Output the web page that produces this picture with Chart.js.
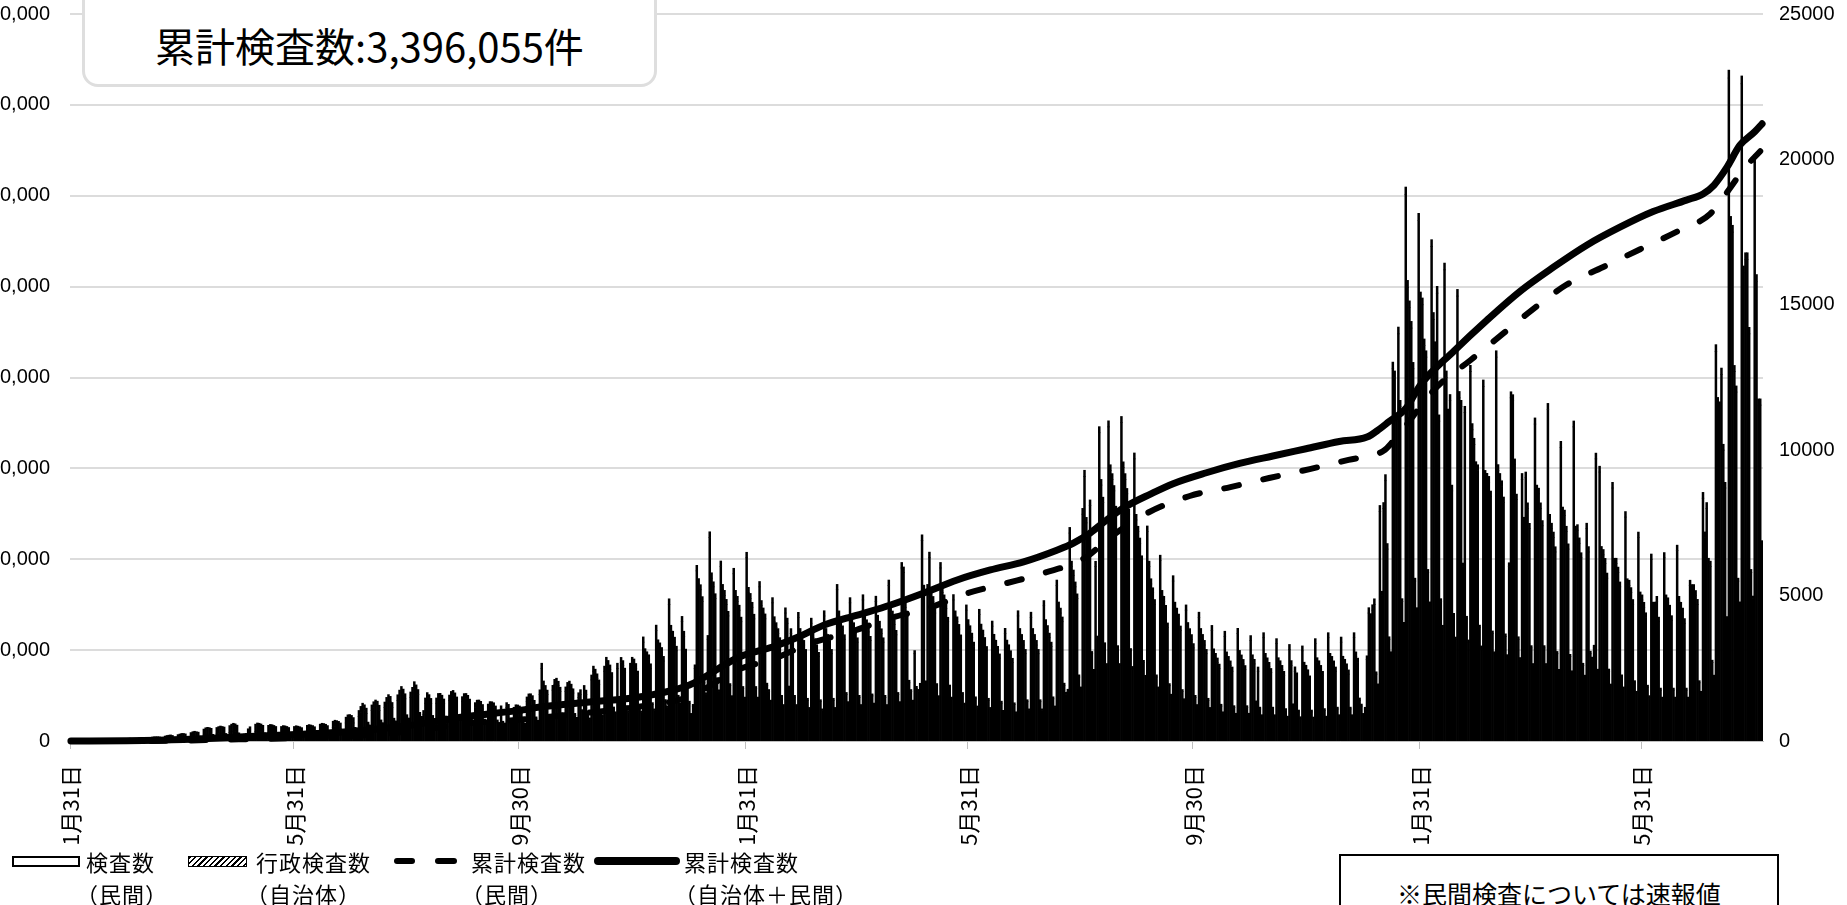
<!DOCTYPE html>
<html lang="ja">
<head>
<meta charset="utf-8">
<title>累計検査数</title>
<script src="https://cdn.jsdelivr.net/npm/chart.js@4.4.1/dist/chart.umd.min.js"></script>
<style>
  html, body { margin: 0; padding: 0; background: #fff; }
  body { width: 1847px; height: 905px; overflow: hidden; position: relative; font-family: "Noto Sans CJK JP", sans-serif; color: #000; }
  #wrap { position: absolute; left: -80px; top: 0; width: 1927px; height: 850px; }
  #total-box { position: absolute; left: 82px; top: -30px; width: 575px; height: 117px; box-sizing: border-box; border: 3px solid #dedede; border-radius: 16px; background: #fff; text-align: center; font-size: 40px; line-height: 48px; padding-top: 48px; }
  .sw { position: absolute; box-sizing: border-box; }
  .lt { position: absolute; font-size: 22px; line-height: 26px; letter-spacing: 1px; white-space: nowrap; }
  #note { position: absolute; left: 1339px; top: 854px; width: 440px; height: 90px; box-sizing: border-box; border: 2px solid #000; text-align: center; font-size: 25px; line-height: 30px; padding-top: 22px; }
</style>
</head>
<body>
<div id="wrap"><canvas id="chart" width="1927" height="850" style="width:1927px;height:850px"></canvas></div>
<div id="total-box">累計検査数:3,396,055件</div>

<div class="sw" style="left:12px;top:856px;width:68px;height:11px;border:2px solid #000;background:#fff"></div>
<div class="lt" style="left:86px;top:848px">検査数</div>
<div class="lt" style="left:76px;top:880px">（民間）</div>

<div class="sw" style="left:188px;top:856px;width:59px;height:11px;border:1px solid #000;background:repeating-linear-gradient(135deg,#000 0 1.5px,#fff 1.5px 4px)"></div>
<div class="lt" style="left:256px;top:848px">行政検査数</div>
<div class="lt" style="left:246px;top:880px">（自治体）</div>

<div class="sw" style="left:394px;top:858px;width:21px;height:6px;border-radius:3px;background:#000"></div>
<div class="sw" style="left:435px;top:858px;width:22px;height:6px;border-radius:3px;background:#000"></div>
<div class="lt" style="left:471px;top:848px">累計検査数</div>
<div class="lt" style="left:461px;top:880px">（民間）</div>

<div class="sw" style="left:594px;top:857px;width:86px;height:8px;border-radius:4px;background:#000"></div>
<div class="lt" style="left:684px;top:848px">累計検査数</div>
<div class="lt" style="left:674px;top:880px">（自治体＋民間）</div>

<div id="note">※民間検査については速報値</div>

<script>
// x axis: one category per day from 2020-01-31
const startDate = "2020-01-31";
const tickDates = ["2020-01-31", "2020-05-31", "2020-09-30", "2021-01-31", "2021-05-31", "2021-09-30", "2022-01-31", "2022-05-31"];
const tickLabels = ["1月31日", "5月31日", "9月30日", "1月31日", "5月31日", "9月30日", "1月31日", "5月31日"];

// daily tests, private labs (right axis); rows are weeks starting 2020-02-02
const minkanDaily = [
  0, 0,
  0, 0, 0, 0, 0, 0, 0,
  0, 0, 0, 0, 0, 0, 0,
  0, 0, 0, 0, 0, 0, 0,
  0, 0, 0, 0, 0, 0, 0,
  10, 15, 18, 20, 16, 5, 4,
  25, 30, 28, 32, 30, 10, 8,
  40, 45, 42, 50, 46, 15, 12,
  60, 70, 75, 80, 72, 25, 20,
  90, 100, 110, 115, 105, 35, 30,
  130, 150, 160, 150, 140, 80, 65,
  200, 230, 240, 235, 220, 120, 100,
  240, 260, 275, 265, 250, 140, 120,
  290, 320, 340, 330, 300, 160, 130,
  100, 110, 120, 220, 260, 150, 120,
  320, 350, 345, 330, 300, 170, 140,
  300, 320, 315, 300, 280, 160, 130,
  280, 300, 295, 285, 265, 150, 125,
  290, 310, 300, 290, 270, 170, 150,
  330, 350, 340, 330, 300, 190, 170,
  370, 390, 385, 370, 340, 210, 190,
  470, 500, 490, 470, 430, 270, 240,
  620, 690, 700, 680, 620, 380, 340,
  850, 980, 1100, 1050, 950, 560, 480,
  1050, 1150, 1210, 1180, 1050, 640, 560,
  1150, 1300, 1400, 1350, 1150, 700, 620,
  1400, 1550, 1680, 1600, 1450, 820, 720,
  1500, 1650, 1850, 1750, 1600, 900, 780,
  900, 1300, 1480, 1420, 1300, 800, 700,
  1300, 1450, 1460, 1400, 1280, 780, 680,
  1400, 1520, 1560, 1480, 1350, 800, 700,
  1350, 1450, 1460, 1400, 1280, 750, 660,
  1150, 1230, 1240, 1200, 1100, 680, 600,
  1100, 1180, 1180, 1150, 1050, 650, 580,
  1050, 600, 550, 1150, 1100, 650, 580,
  1000, 1080, 1080, 1050, 950, 620, 550,
  1350, 1450, 1460, 1400, 1250, 760, 660,
  1600, 2500, 1900, 1750, 1600, 850, 740,
  1750, 1950, 2000, 1900, 1700, 900, 780,
  1700, 1850, 1900, 1800, 1650, 880, 760,
  1500, 1600, 1000, 1750, 1600, 850, 740,
  2100, 2400, 2300, 2150, 1950, 1000, 850,
  2400, 2700, 2600, 2450, 2200, 1100, 950,
  2500, 1300, 2700, 2600, 2350, 1150, 980,
  2500, 2700, 2650, 2500, 2250, 1150, 980,
  3400, 3000, 2900, 2800, 2500, 1250, 1050,
  3800, 3300, 3200, 3050, 2750, 1350, 1150,
  4700, 3800, 3600, 3400, 3100, 1500, 1250,
  4100, 3600, 3000, 1800, 1300, 900, 1200,
  2500, 5850, 5400, 5200, 4800, 2000, 1600,
  3500, 7000, 5600, 5300, 4900, 2100, 1700,
  6000, 5200, 5000, 4700, 4300, 1900, 1500,
  5750, 5000, 4800, 4500, 4100, 1800, 1450,
  6300, 5100, 4900, 4600, 4200, 1800, 1450,
  5300, 4650, 4400, 4200, 1900, 1700, 1350,
  4750, 4100, 3900, 3700, 3400, 1500, 1200,
  4400, 4050, 1800, 3700, 3400, 1500, 1200,
  4250, 3700, 3500, 3300, 3000, 1400, 1100,
  4050, 3550, 3350, 3150, 2900, 1350, 1050,
  4300, 3700, 3500, 3300, 3000, 1400, 1100,
  5200, 4300, 4000, 3800, 3500, 1600, 1300,
  4750, 4100, 3900, 3700, 3400, 1500, 1200,
  4850, 4200, 4000, 3750, 3450, 1550, 1250,
  4800, 4150, 3950, 3700, 3400, 1500, 1200,
  5350, 4500, 4300, 4000, 3650, 1600, 1300,
  5950, 5800, 4600, 4300, 2000, 1700, 1350,
  3000, 1800, 1700, 1900, 6900, 5200, 2000,
  5200, 6300, 5100, 4800, 4400, 1900, 1500,
  5950, 5100, 4850, 4550, 4100, 1850, 1450,
  4850, 4300, 4100, 3850, 3500, 1600, 1250,
  4500, 4000, 3800, 3550, 3250, 1450, 1150,
  4350, 3850, 3650, 3400, 3100, 1400, 1100,
  3950, 3500, 3300, 3100, 2850, 1300, 1000,
  3700, 3300, 3150, 2950, 2700, 1250, 950,
  4300, 3700, 3500, 3300, 3000, 1350, 1050,
  4250, 3700, 3500, 3300, 3000, 1350, 1050,
  4650, 4000, 3800, 3550, 3250, 1450, 1150,
  5350, 4600, 4400, 4100, 1900, 1600, 1700,
  7150, 6000, 5700, 5300, 4900, 2200, 1800,
  7800, 9100, 7500, 7000, 8100, 3000, 2400,
  6000, 3500, 10600, 8800, 8200, 3300, 2600,
  10800, 9300, 9000, 8600, 7900, 3200, 2600,
  10950, 9400, 9000, 8500, 7800, 3100, 2500,
  9700, 7600, 7200, 6800, 6200, 2700, 2200,
  7200, 6000, 5400, 5100, 4700, 2200, 1800,
  6200, 5000, 4800, 4500, 3900, 1900, 1550,
  5500, 4600, 4400, 4200, 3800, 1700, 1400,
  4500, 3900, 3700, 3500, 3200, 1500, 1200,
  4250, 3700, 3500, 3300, 3000, 1400, 1100,
  3800, 3000, 2850, 2700, 2500, 1200, 950,
  3600, 2900, 2750, 2600, 2400, 1150, 900,
  3700, 2950, 2800, 2650, 2450, 1150, 900,
  3450, 2800, 2650, 1300, 2400, 1100, 850,
  3550, 2850, 2700, 2550, 2350, 1100, 850,
  3350, 2700, 2600, 2450, 2250, 1050, 800,
  3150, 2600, 1200, 2400, 2200, 1000, 780,
  3100, 2550, 2450, 2300, 2100, 1000, 770,
  3350, 2700, 2600, 2450, 2250, 1050, 800,
  3550, 2850, 2750, 2600, 2400, 1100, 850,
  3400, 2750, 2650, 2500, 2300, 1100, 850,
  3550, 2900, 2700, 1400, 1200, 900, 1100,
  2800, 4400, 4200, 4500, 4700, 2300, 1900,
  7900, 5000, 8000, 8950, 6600, 3500, 3000,
  12800, 12500, 11000, 14000, 11500, 4800, 4000,
  18800, 15600, 14900, 14200, 12800, 5500, 4500,
  17900, 15200, 15000, 13600, 13200, 5800, 4700,
  17000, 14500, 13500, 15400, 11000, 4800, 3900,
  16200, 12500, 11200, 11700, 8600, 4300, 3500,
  15300, 11800, 11500, 6000, 11300, 4200, 3400,
  12700, 10700, 10200, 9400, 9300, 3900, 3200,
  12200, 9100, 9000, 8900, 8400, 3700, 3000,
  13200, 9300, 9000, 8750, 8200, 3600, 2900,
  6000, 11800, 11700, 9500, 8300, 3500, 2800,
  9000, 7500, 9050, 8000, 7300, 3200, 2600,
  10900, 8600, 8500, 8000, 7400, 3200, 2600,
  11400, 7600, 7300, 7000, 6500, 3000, 2400,
  10100, 7850, 7750, 7200, 6600, 2900, 2350,
  10800, 7200, 7250, 6800, 6300, 2600, 2200,
  7300, 6500, 3000, 2800, 3200, 9700, 2400,
  9250, 6500, 6400, 6100, 5600, 2400, 1900,
  8700, 6100, 6100, 5800, 5300, 2200, 1800,
  7700, 5400, 5350, 5100, 4700, 2000, 1650,
  7000, 4950, 4850, 4600, 4250, 1850, 1500,
  6250, 4600, 4600, 4800, 4100, 1750, 1450,
  6300, 4850, 4750, 4500, 4150, 1750, 1450,
  6550, 4800, 4600, 4400, 4050, 1750, 1450,
  5350, 5200, 5200, 5000, 4700, 2000, 1650,
  8350, 7000, 8000, 6100, 6000, 2700, 2200,
  13400, 11600, 11450, 12600, 10000, 8700, 4200,
  22800, 17800, 17500, 12700, 12000, 5500, 4700,
  22600, 16100, 16550, 16550, 14000, 5800, 4900,
  19900, 15800, 11550, 11550, 6700
];

// daily tests, local government (administrative), stacked on top
const jichitaiDaily = [
  6, 4,
  12, 15, 10, 14, 12, 4, 3,
  18, 20, 16, 22, 19, 8, 6,
  35, 40, 48, 52, 45, 20, 15,
  55, 62, 58, 64, 60, 30, 22,
  70, 75, 80, 72, 70, 35, 28,
  80, 85, 90, 82, 80, 40, 32,
  95, 100, 105, 98, 95, 45, 35,
  110, 120, 125, 130, 120, 55, 45,
  130, 140, 150, 145, 140, 70, 55,
  160, 170, 175, 170, 165, 90, 70,
  210, 225, 230, 225, 215, 110, 90,
  225, 235, 240, 235, 230, 120, 100,
  240, 260, 270, 260, 245, 120, 100,
  120, 130, 140, 200, 230, 110, 90,
  260, 270, 265, 255, 240, 110, 90,
  240, 250, 245, 235, 220, 100, 85,
  220, 230, 225, 215, 200, 95, 80,
  210, 215, 210, 200, 190, 90, 75,
  210, 215, 210, 200, 190, 90, 75,
  210, 220, 215, 205, 190, 90, 75,
  210, 215, 210, 205, 190, 90, 75,
  200, 210, 210, 200, 185, 90, 75,
  200, 210, 200, 195, 180, 90, 70,
  190, 200, 200, 190, 180, 85, 70,
  190, 200, 195, 185, 175, 85, 70,
  190, 200, 195, 185, 175, 85, 70,
  185, 195, 190, 180, 170, 85, 70,
  150, 180, 185, 175, 165, 80, 65,
  180, 185, 180, 175, 165, 80, 65,
  180, 185, 180, 175, 165, 80, 65,
  175, 180, 175, 170, 160, 80, 65,
  170, 175, 170, 165, 155, 75, 60,
  170, 175, 170, 165, 155, 75, 60,
  160, 80, 70, 170, 160, 75, 60,
  160, 165, 160, 155, 150, 75, 60,
  165, 170, 165, 160, 150, 70, 55,
  160, 175, 165, 160, 150, 70, 55,
  165, 170, 160, 155, 150, 70, 55,
  160, 165, 160, 155, 145, 70, 55,
  160, 165, 80, 160, 150, 70, 55,
  170, 175, 170, 160, 150, 70, 55,
  175, 180, 170, 165, 155, 70, 55,
  175, 90, 175, 165, 155, 70, 55,
  175, 180, 170, 165, 155, 70, 55,
  180, 175, 170, 165, 155, 70, 55,
  185, 180, 175, 165, 160, 75, 60,
  190, 180, 175, 170, 160, 75, 60,
  185, 175, 160, 90, 70, 50, 60,
  120, 190, 185, 175, 165, 75, 60,
  130, 195, 185, 175, 165, 75, 60,
  190, 185, 180, 170, 160, 75, 60,
  190, 180, 175, 170, 160, 75, 60,
  190, 185, 175, 170, 160, 75, 60,
  185, 180, 175, 170, 90, 70, 55,
  180, 175, 170, 165, 155, 70, 55,
  180, 175, 90, 165, 155, 70, 55,
  175, 170, 165, 160, 150, 70, 55,
  175, 170, 165, 160, 150, 70, 55,
  180, 170, 165, 160, 150, 70, 55,
  185, 175, 170, 160, 155, 70, 55,
  180, 175, 170, 160, 150, 70, 55,
  180, 175, 170, 160, 150, 70, 55,
  180, 175, 170, 160, 150, 70, 55,
  185, 180, 170, 165, 155, 70, 55,
  190, 185, 175, 165, 90, 70, 55,
  110, 80, 75, 85, 190, 160, 70,
  185, 195, 180, 170, 160, 75, 60,
  190, 180, 175, 165, 155, 75, 60,
  185, 175, 170, 160, 150, 70, 55,
  180, 175, 165, 160, 150, 70, 55,
  180, 170, 165, 160, 150, 70, 55,
  175, 170, 165, 155, 145, 70, 55,
  175, 170, 160, 155, 145, 65, 55,
  180, 170, 165, 160, 150, 70, 55,
  180, 170, 165, 160, 150, 70, 55,
  180, 175, 170, 160, 150, 70, 55,
  185, 180, 170, 165, 90, 75, 80,
  195, 185, 180, 170, 160, 75, 60,
  200, 210, 190, 180, 190, 80, 65,
  180, 110, 210, 195, 185, 80, 65,
  210, 200, 195, 185, 175, 80, 65,
  210, 200, 195, 185, 175, 80, 65,
  205, 195, 185, 180, 170, 75, 60,
  195, 185, 180, 170, 165, 75, 60,
  190, 180, 175, 165, 160, 75, 60,
  185, 175, 170, 165, 155, 70, 55,
  180, 175, 165, 160, 150, 70, 55,
  180, 170, 165, 160, 150, 70, 55,
  175, 170, 165, 155, 145, 65, 55,
  175, 165, 160, 155, 145, 65, 55,
  175, 165, 160, 155, 145, 65, 55,
  175, 165, 160, 80, 145, 65, 55,
  175, 165, 160, 155, 145, 65, 55,
  170, 165, 160, 150, 145, 65, 55,
  170, 165, 80, 150, 145, 65, 55,
  170, 160, 155, 150, 140, 65, 55,
  170, 165, 160, 150, 145, 65, 55,
  175, 165, 160, 155, 145, 65, 55,
  175, 165, 160, 155, 145, 65, 55,
  175, 165, 150, 80, 70, 50, 60,
  130, 185, 180, 185, 190, 80, 65,
  200, 150, 200, 210, 190, 85, 70,
  230, 225, 215, 235, 215, 95, 80,
  250, 240, 235, 230, 220, 100, 85,
  245, 240, 235, 225, 220, 100, 85,
  240, 235, 230, 235, 215, 95, 80,
  235, 225, 215, 215, 200, 90, 75,
  230, 220, 215, 120, 210, 90, 75,
  220, 215, 210, 205, 200, 85, 70,
  215, 205, 205, 200, 195, 85, 70,
  220, 205, 200, 200, 190, 85, 70,
  130, 210, 210, 200, 190, 85, 70,
  200, 195, 200, 190, 185, 80, 65,
  210, 200, 195, 190, 180, 80, 65,
  210, 195, 190, 185, 180, 80, 65,
  205, 195, 190, 185, 180, 80, 65,
  205, 190, 190, 185, 175, 75, 65,
  190, 185, 90, 85, 95, 200, 70,
  200, 190, 185, 180, 175, 75, 60,
  195, 185, 185, 180, 170, 75, 60,
  190, 180, 180, 175, 165, 75, 60,
  185, 175, 175, 170, 160, 70, 60,
  180, 175, 175, 175, 160, 70, 60,
  180, 175, 175, 170, 160, 70, 60,
  185, 175, 170, 170, 160, 70, 60,
  180, 180, 180, 175, 170, 75, 60,
  200, 190, 200, 185, 185, 80, 65,
  230, 215, 215, 225, 205, 195, 80,
  270, 240, 235, 215, 210, 100, 85,
  270, 235, 240, 240, 225, 100, 85,
  260, 240, 215, 215, 190
];

// cumulative tests, local government + private (left axis)
const cumTotalDates = [
  "2020-01-31", "2020-03-01", "2020-04-01", "2020-05-01", "2020-06-01", "2020-07-01", "2020-08-01",
  "2020-09-01", "2020-10-01", "2020-10-11", "2020-11-07", "2020-12-04", "2020-12-31", "2021-01-27",
  "2021-02-14", "2021-02-28", "2021-03-14", "2021-04-01", "2021-04-19", "2021-05-07", "2021-05-25",
  "2021-06-12", "2021-06-30", "2021-07-18", "2021-07-27", "2021-08-05", "2021-08-14", "2021-08-23",
  "2021-09-07", "2021-09-19", "2021-10-07", "2021-10-25", "2021-11-12", "2021-11-30", "2021-12-18",
  "2022-01-02", "2022-01-09", "2022-01-14", "2022-01-23", "2022-01-31", "2022-02-18", "2022-03-08",
  "2022-03-26", "2022-04-13", "2022-05-01", "2022-05-19", "2022-06-06", "2022-06-24", "2022-07-03",
  "2022-07-09", "2022-07-16", "2022-07-23", "2022-07-31", "2022-08-04"
];
const cumTotalValues = [
  0, 1500, 8000, 22000, 36000, 52000, 85000,
  135000, 170000, 187000, 215000, 242000, 308000, 462000,
  517000, 572000, 638000, 693000, 748000, 814000, 886000,
  941000, 986000, 1050000, 1089000, 1144000, 1216000, 1282000,
  1360000, 1416000, 1476000, 1527000, 1568000, 1608000, 1648000,
  1672000, 1718000, 1758000, 1829000, 1960000, 2145000, 2316000,
  2475000, 2607000, 2728000, 2827000, 2913000, 2976000, 3010000,
  3059000, 3157000, 3278000, 3352000, 3396055
];

// cumulative tests, private labs only (left axis)
const cumMinkanDates = [
  "2020-01-31", "2020-03-01", "2020-04-01", "2020-05-01", "2020-06-01", "2020-07-01", "2020-08-01",
  "2020-09-01", "2020-10-01", "2020-11-01", "2020-12-01", "2020-12-31", "2021-01-27", "2021-02-14",
  "2021-03-07", "2021-03-28", "2021-04-19", "2021-05-11", "2021-05-31", "2021-06-21", "2021-07-11",
  "2021-08-02", "2021-08-16", "2021-09-05", "2021-09-28", "2021-10-20", "2021-11-10", "2021-12-02",
  "2021-12-23", "2022-01-11", "2022-01-16", "2022-02-09", "2022-02-27", "2022-03-17", "2022-04-02",
  "2022-04-20", "2022-05-10", "2022-05-30", "2022-06-19", "2022-07-07", "2022-07-18", "2022-07-25",
  "2022-08-03"
];
const cumMinkanValues = [
  0, 0, 2500, 9000, 16000, 26000, 52000,
  95000, 118000, 150000, 185000, 245000, 395000, 450000,
  539000, 600000, 676000, 737000, 814000, 869000, 924000,
  1006000, 1122000, 1254000, 1348000, 1397000, 1447000, 1496000,
  1547000, 1597000, 1648000, 1949000, 2095000, 2244000, 2376000,
  2510000, 2608000, 2706000, 2803000, 2901000, 3047000, 3146000,
  3245000
];

const labels = [];
const day0 = new Date(startDate + "T00:00:00Z");
for (let i = 0; i < minkanDaily.length; i++) {
  labels.push(new Date(day0.getTime() + i * 86400000).toISOString().slice(0, 10));
}
const majorIndex = new Set(tickDates.map(d => labels.indexOf(d)));

function toPoints(dates, values) {
  return dates.map((d, i) => ({ x: d, y: values[i] }));
}

Chart.defaults.font.family = '"Liberation Sans", Arial, sans-serif';
Chart.defaults.color = "#000";

const ctx = document.getElementById("chart").getContext("2d");
new Chart(ctx, {
  data: {
    labels: labels,
    datasets: [
      {
        type: "line",
        label: "累計検査数（自治体＋民間）",
        data: toPoints(cumTotalDates, cumTotalValues),
        yAxisID: "y",
        borderColor: "#000",
        borderWidth: 7,
        borderCapStyle: "round",
        borderJoinStyle: "round",
        pointRadius: 0,
        cubicInterpolationMode: "monotone",
        clip: false,
        order: 0
      },
      {
        type: "line",
        label: "累計検査数（民間）",
        data: toPoints(cumMinkanDates, cumMinkanValues),
        yAxisID: "y",
        borderColor: "#000",
        borderWidth: 6,
        borderDash: [15, 25],
        borderCapStyle: "round",
        pointRadius: 0,
        cubicInterpolationMode: "monotone",
        clip: false,
        order: 1
      },
      {
        type: "bar",
        label: "検査数（民間）",
        data: minkanDaily,
        yAxisID: "y1",
        stack: "daily",
        backgroundColor: "#000",
        borderWidth: 0,
        barPercentage: 1,
        categoryPercentage: 1,
        order: 2
      },
      {
        type: "bar",
        label: "行政検査数（自治体）",
        data: jichitaiDaily,
        yAxisID: "y1",
        stack: "daily",
        backgroundColor: "#000",
        borderWidth: 0,
        barPercentage: 1,
        categoryPercentage: 1,
        order: 3
      }
    ]
  },
  options: {
    responsive: false,
    animation: false,
    events: [],
    layout: { padding: { top: 14, left: 0, right: 0, bottom: 0 } },
    plugins: {
      legend: { display: false },
      tooltip: { enabled: false }
    },
    scales: {
      x: {
        type: "category",
        stacked: true,
        afterFit: (scale) => { scale.height = 109; },
        border: { display: true, color: "#bfbfbf", width: 1 },
        grid: {
          drawOnChartArea: false,
          drawTicks: true,
          tickLength: 8,
          color: (c) => majorIndex.has(c.index) ? "#bfbfbf" : "rgba(0,0,0,0)"
        },
        ticks: {
          autoSkip: false,
          maxRotation: 90,
          minRotation: 90,
          padding: 16,
          font: { family: '"Noto Sans CJK JP", sans-serif', size: 22 },
          callback: function (value, index) {
            const k = tickDates.indexOf(labels[index]);
            return k >= 0 ? tickLabels[k] : "";
          }
        }
      },
      y: {
        position: "left",
        min: 0,
        max: 4000000,
        afterFit: (scale) => { scale.width = 150; },
        border: { display: false },
        // the tick length (transparent) sets the gap between labels and plot
        grid: { color: "#dcdcdc", lineWidth: 2, drawTicks: true, tickLength: 20, tickColor: "rgba(0,0,0,0)" },
        ticks: {
          stepSize: 500000,
          padding: 0,
          font: { size: 20 },
          callback: (v) => v.toLocaleString("en-US")
        }
      },
      y1: {
        position: "right",
        stacked: true,
        min: 0,
        max: 25000,
        afterFit: (scale) => { scale.width = 84; },
        border: { display: false },
        grid: { display: false, drawTicks: true, tickLength: 16 },
        ticks: {
          stepSize: 5000,
          padding: 0,
          font: { size: 20 },
          callback: (v) => String(v)
        }
      }
    }
  }
});
</script>
</body>
</html>
